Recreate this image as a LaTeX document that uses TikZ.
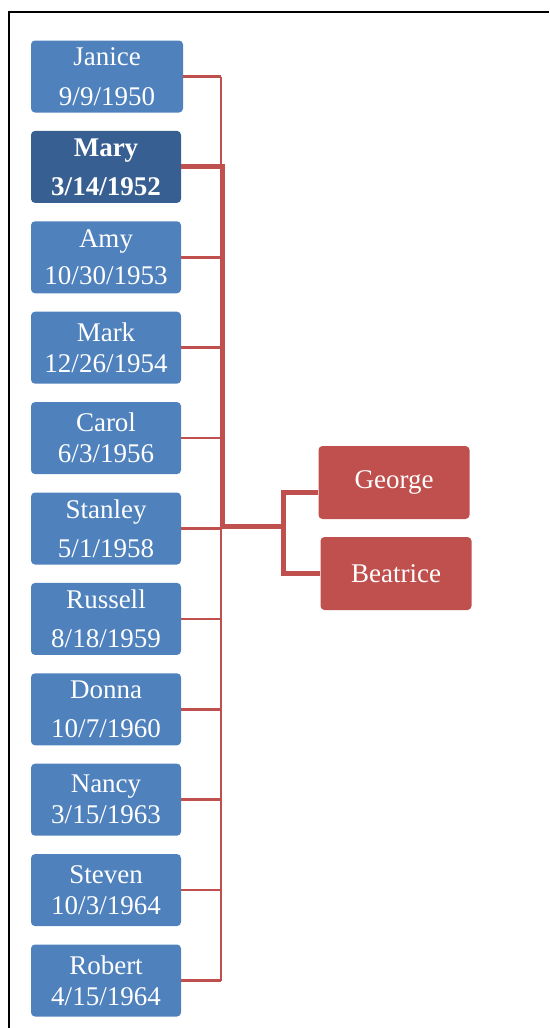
\documentclass[tikz,border=0pt]{standalone}
\usepackage{fontspec}
\setmainfont{Liberation Serif}
\usepackage{xcolor}
\usepackage{tikz}
\usetikzlibrary{positioning}
\definecolor{kBlue}{RGB}{79,129,189}
\definecolor{kNavy}{RGB}{55,95,145}
\definecolor{kRed}{RGB}{192,80,77}
\tikzset{
kidbox/.style={rectangle,rounded corners=4pt,fill=kBlue,text=white,minimum width=152pt,minimum height=72pt,inner sep=0pt,align=center,font=\fontsize{27}{31}\selectfont},
selfbox/.style={kidbox,fill=kNavy,minimum width=150pt,font=\fontsize{27}{31}\selectfont\bfseries},
parentbox/.style={rectangle,rounded corners=4pt,fill=kRed,text=white,minimum width=151pt,minimum height=73pt,inner sep=0pt,align=center,font=\fontsize{27}{31}\selectfont},
kidlink/.style={draw=kRed,line width=2.5pt},
parentlink/.style={draw=kRed,line width=5pt},
frame/.style={draw=black,line width=2.5pt}
}
\begin{document}
\begin{tikzpicture}[x=1pt,y=-1pt,node distance=18pt]
\useasboundingbox (0,0) rectangle (549,1028);
\draw[frame] (9,1028) |- (549,12);
% children
\node[kidbox] (janice) at (107,76.5) {Janice\\[9pt]9/9/1950};
\node[selfbox,below=of janice,xshift=-1pt] (mary) {Mary\\[8pt]3/14/1952};
\node[kidbox,below=of mary,minimum width=150pt] (amy) {Amy\\[6pt]10/30/1953};
\node[kidbox,below=of amy,minimum width=150pt] (mark) {Mark\\12/26/1954};
\node[kidbox,below=of mark,minimum width=150pt] (carol) {Carol\\6/3/1956};
\node[kidbox,below=of carol,minimum width=150pt] (stanley) {Stanley\\[8pt]5/1/1958};
\node[kidbox,below=of stanley,minimum width=150pt] (russell) {Russell\\[8pt]8/18/1959};
\node[kidbox,below=of russell,minimum width=150pt] (donna) {Donna\\[8pt]10/7/1960};
\node[kidbox,below=of donna,minimum width=150pt] (nancy) {Nancy\\3/15/1963};
\node[kidbox,below=of nancy,minimum width=150pt] (steven) {Steven\\10/3/1964};
\node[kidbox,below=of steven,minimum width=150pt] (robert) {Robert\\4/15/1964};
% parents
\node[parentbox] (george) at (394,482.5) {George};
\node[parentbox] (beatrice) at (396,573.5) {Beatrice};
\coordinate (trunk) at (221,76.5);
\coordinate (hub) at (222,526);
\coordinate (fork) at (283,526);
\coordinate (gtap) at (283,492);
\draw[kidlink] (janice.east -| trunk) -- (robert.east -| trunk);
\draw[kidlink] (janice.east) -- (janice.east -| trunk);
\draw[kidlink] (amy.east) -- (amy.east -| trunk);
\draw[kidlink] (mark.east) -- (mark.east -| trunk);
\draw[kidlink] (carol.east) -- (carol.east -| trunk);
\draw[kidlink] (stanley.east) -- (stanley.east -| trunk);
\draw[kidlink] (russell.east) -- (russell.east -| trunk);
\draw[kidlink] (donna.east) -- (donna.east -| trunk);
\draw[kidlink] (nancy.east) -- (nancy.east -| trunk);
\draw[kidlink] (steven.east) -- (steven.east -| trunk);
\draw[kidlink] (robert.east) -- (robert.east -| trunk);
\draw[parentlink] (mary.east) -| (hub) -- (fork);
\draw[parentlink] (george.west |- gtap) -- (gtap) |- (beatrice.west);
\end{tikzpicture}
\end{document}
